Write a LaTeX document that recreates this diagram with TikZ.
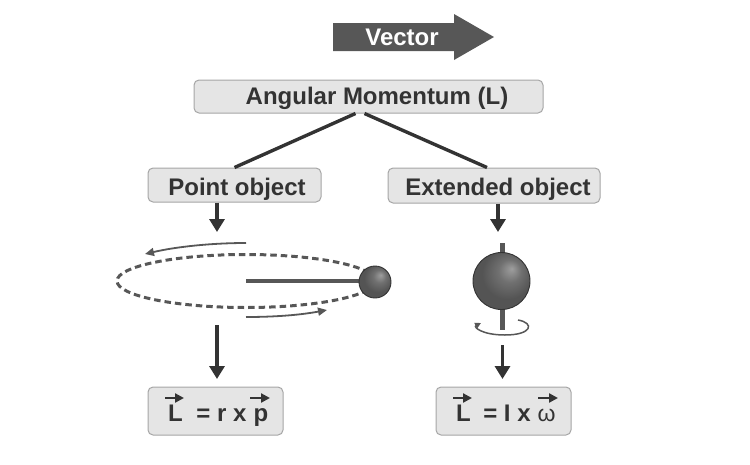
\documentclass[tikz,border=0pt]{standalone}
\usepackage{fontspec}
\setmainfont{Liberation Sans}
\usetikzlibrary{arrows.meta,calc}
\definecolor{ink}{HTML}{333333}
\definecolor{boxfill}{HTML}{E5E5E5}
\definecolor{boxedge}{HTML}{A6A6A6}
\definecolor{midgray}{HTML}{575757}
\tikzset{
  panel/.style={draw=boxedge,line width=1pt,fill=boxfill,rounded corners=5pt,inner sep=0pt,
    text=ink,font=\fontsize{24}{26}\selectfont\bfseries,text height=19pt,text depth=4pt},
  lowpanel/.style={panel,text height=21pt,text depth=1pt},
  formula/.style={inner sep=0pt,text=ink,font=\fontsize{24}{26}\selectfont\bfseries,anchor=base},
  flow/.style={draw=ink,line width=3.4pt,-{Triangle[width=15pt,length=13pt]}},
  branch/.style={draw=ink,line width=3.4pt},
  motion/.style={draw=midgray,line width=1.8pt,-{Triangle[width=8pt,length=9pt]}},
  overarrow/.style={draw=ink,line width=2.4pt,-{Triangle[width=9pt,length=9pt]}}
}
\pgfdeclareradialshading{sphereshade}{\pgfpoint{9bp}{11bp}}{
  color(0bp)=(black!38); color(10bp)=(black!56); color(22bp)=(black!67);
  color(50bp)=(black!67)}
\begin{document}
\begin{tikzpicture}[x=1pt,y=-1pt]
\useasboundingbox (0,0) rectangle (750,464);

% Heading arrow
\fill[midgray] (333,23) -- (454,23) -- (454,14) -- (494,37) -- (454,60) -- (454,51) -- (333,51) -- cycle;
\node[inner sep=0pt,text=white,font=\fontsize{24}{26}\selectfont\bfseries] (vec) at (402,37) {Vector};

% Text panels
\node[panel,minimum width=349pt,minimum height=33pt] (am) at (368.5,96.5) {\hspace*{17pt}Angular Momentum (L)};
\node[lowpanel,minimum width=173pt,minimum height=34pt] (po) at (234.5,185) {\hspace*{5pt}Point object};
\node[lowpanel,minimum width=212pt,minimum height=35pt] (eo) at (494,185.5) {\hspace*{8pt}Extended object};
\node[panel,minimum width=135pt,minimum height=48pt] (fl) at (215.5,411) {};
\node[panel,minimum width=135pt,minimum height=48pt] (fr) at (503.5,411) {};

% Branches from the top panel
\draw[branch] ($(am.south)+(-13,0)$) -- (po.north);
\draw[branch] ($(am.south)+(-4,0)$) -- ($(eo.north)+(-7,0)$);

% Orbiting point mass
\coordinate (orbitc) at (246,281);
\draw[midgray,line width=3pt,dash pattern=on 6.5pt off 4pt] (orbitc) ellipse [x radius=129pt,y radius=26.5pt];
\draw[midgray,line width=3.2pt] (orbitc) -- (362,281);
\shade[shading=sphereshade] (375,282) circle (16pt);
\draw[black!80,line width=0.9pt] (375,282) circle (16pt);
\draw[motion] (246,243) .. controls (210,243) and (175,247) .. (145,254);
\draw[motion] (246,317) .. controls (275,317) and (300,315) .. (327,310);

% Spinning extended body
\coordinate (axisT) at (502.5,243);
\coordinate (axisB) at (502.5,330);
\draw[midgray,line width=5pt] (axisT) -- (axisB);
\shade[shading=sphereshade] (501.5,281) circle (28.5pt);
\draw[black!80,line width=0.9pt] (501.5,281) circle (28.5pt);
\draw[midgray,line width=1.5pt,-{Triangle[width=6pt,length=6pt]}]
  (518,320) .. controls (535,323) and (532,335) .. (505,335)
  .. controls (482,335) and (473,327) .. (481,323);

% Flow arrows
\coordinate (leftin) at (217,232);
\coordinate (rightin) at (498,232);
\coordinate (leftout) at (217,325);
\coordinate (rightout) at (502.5,345);
\draw[flow] (leftin |- po.south) -- (leftin);
\draw[flow] (rightin |- eo.south) -- (rightin);
\draw[flow] (leftout) -- (leftout |- 0,379);
\draw[flow] (rightout) -- (rightout |- 0,379);

% Left formula
\node[formula] (ll) at (175.5,421) {L};
\node[formula] (lr) at (221.5,421) {= r x};
\node[formula] (lp) at (261,421) {p};
\draw[overarrow] ($(ll.base)+(-10.5,-23)$) -- ++(19,0);
\draw[overarrow] ($(lp.base)+(-11,-23)$) -- ++(20,0);

% Right formula
\node[formula] (rl) at (463.5,421) {L};
\node[formula] (rr) at (507,421) {= I x};
\node[formula,font=\fontsize{23}{26}\selectfont] (rw) at (546.5,421) {ω};
\draw[overarrow] ($(rl.base)+(-10.5,-23)$) -- ++(19,0);
\draw[overarrow] ($(rw.base)+(-8.5,-23)$) -- ++(20,0);
\end{tikzpicture}
\end{document}
